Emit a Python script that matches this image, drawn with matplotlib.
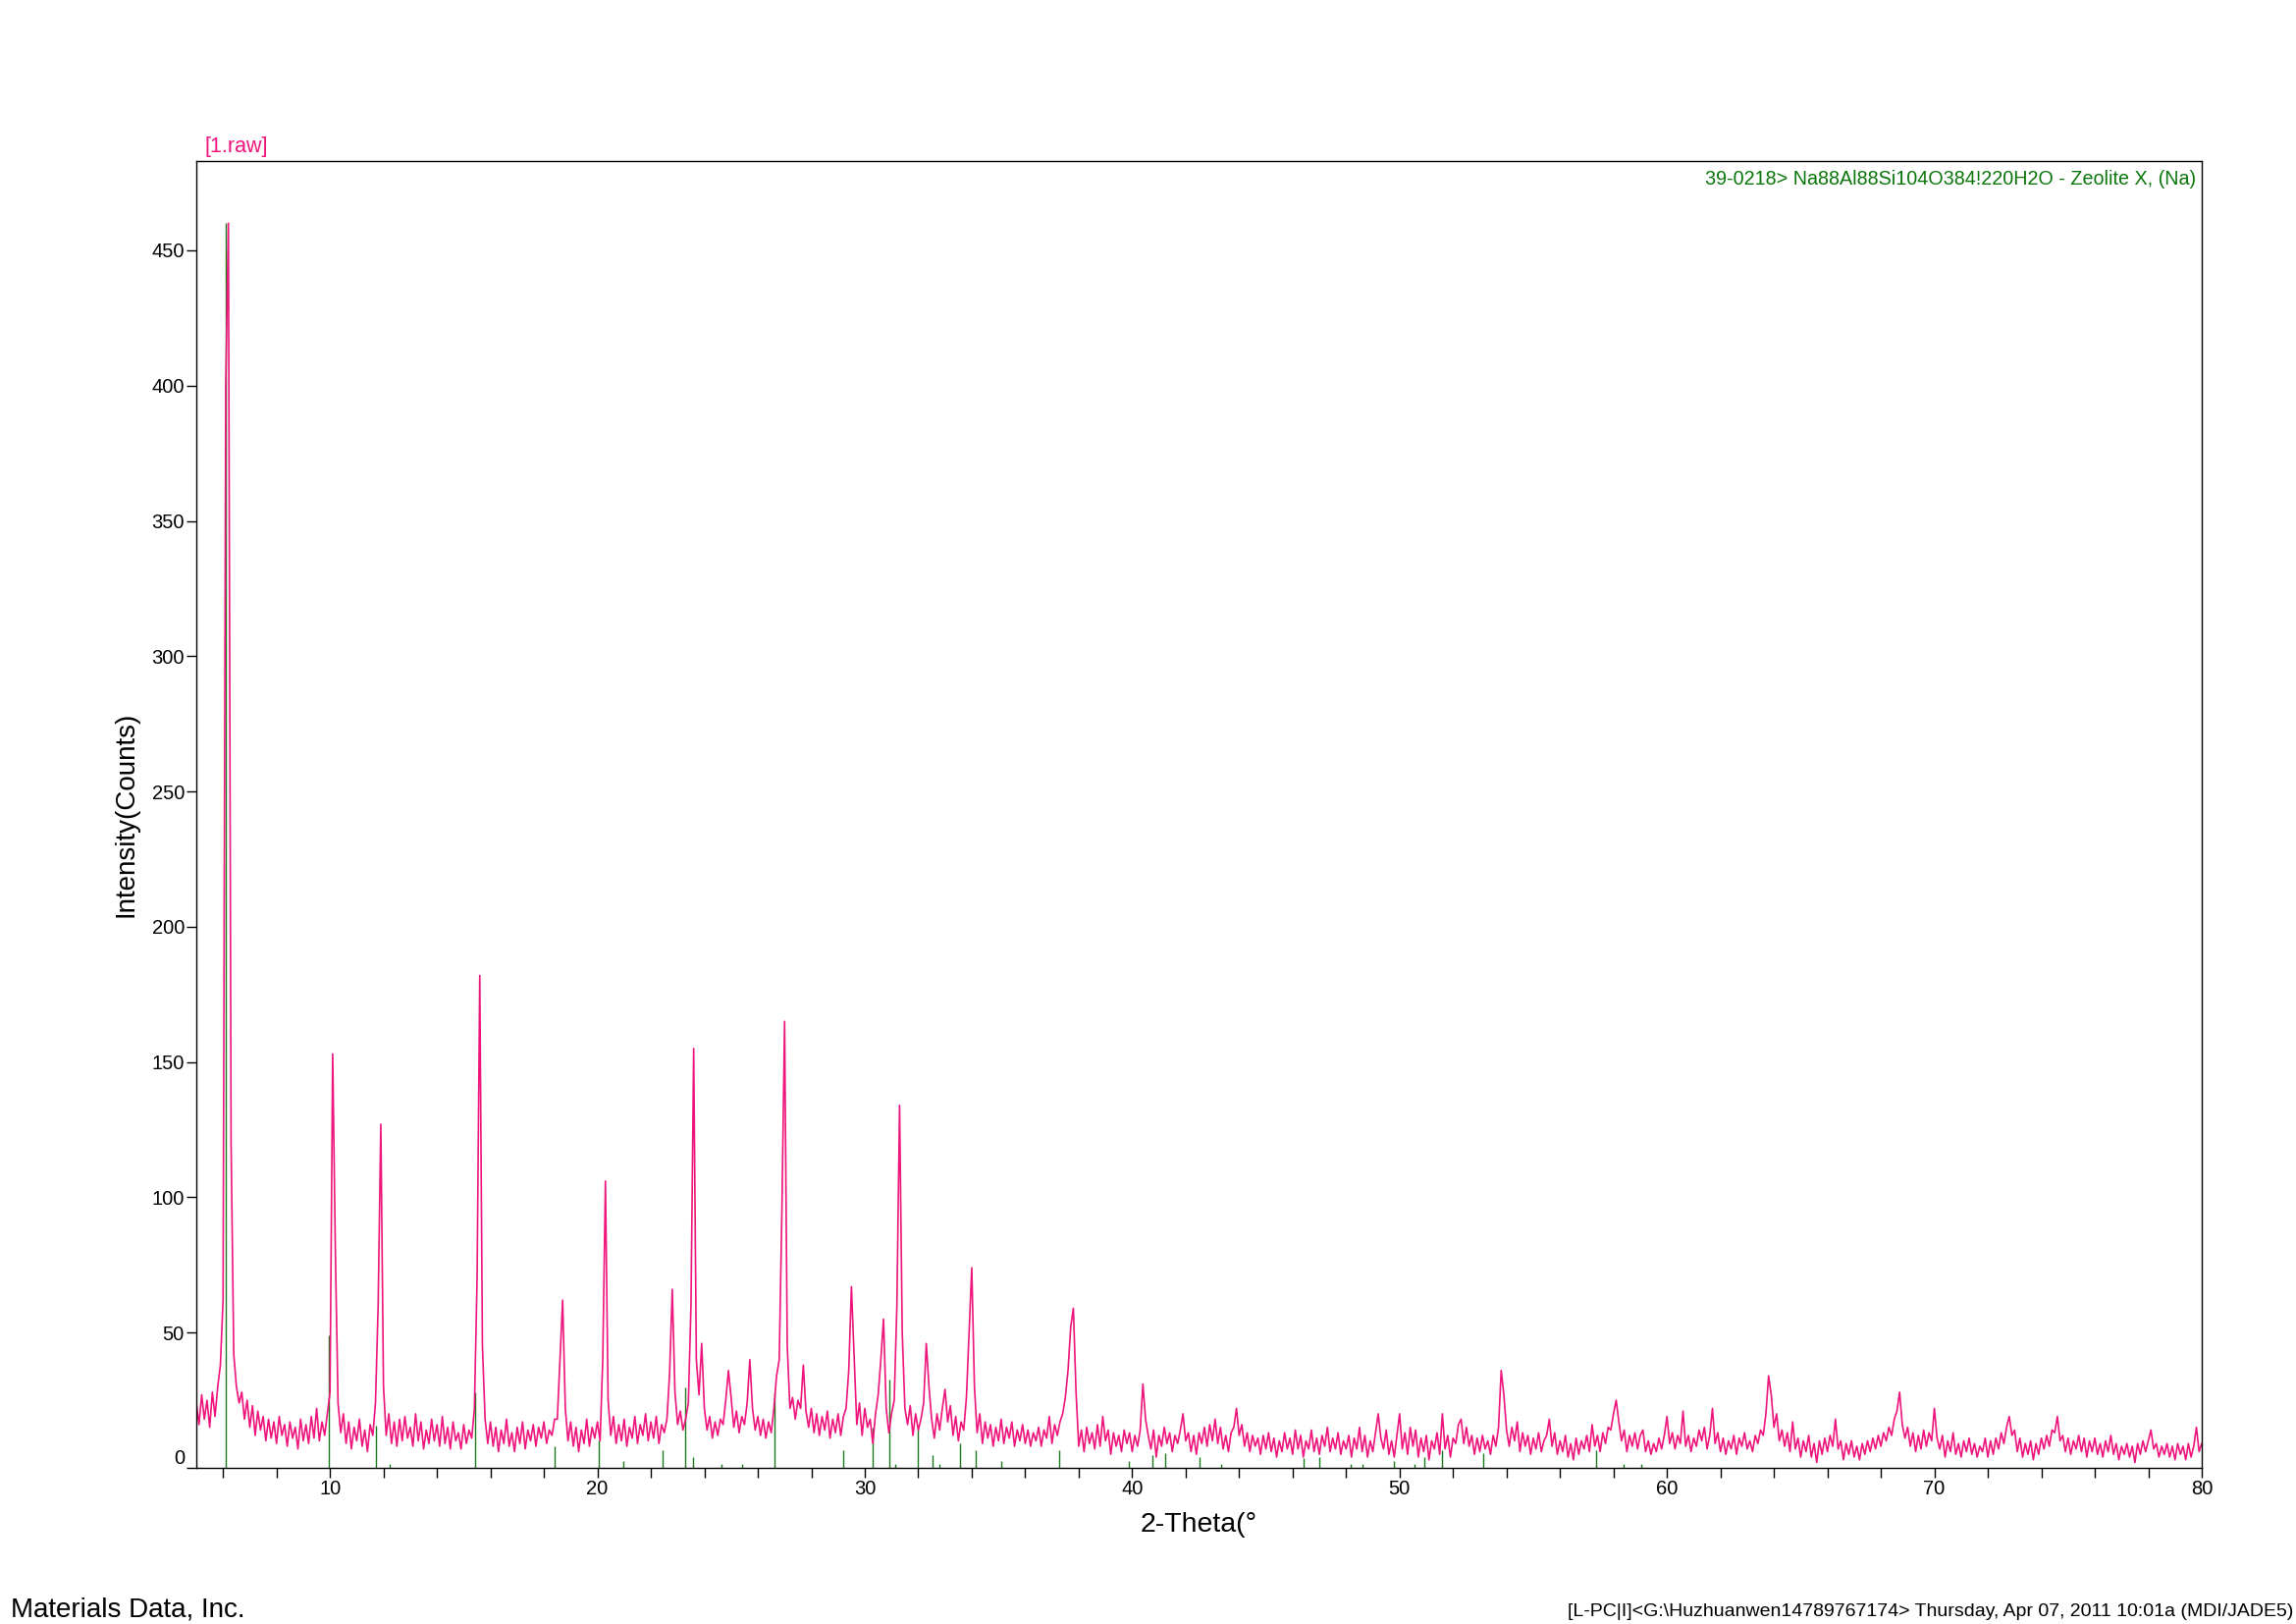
import numpy as np
import matplotlib
matplotlib.use("Agg")
import matplotlib.pyplot as plt
from matplotlib.ticker import MultipleLocator

plt.rcParams['font.family'] = ['Liberation Sans', 'DejaVu Sans']

# measured counts, 2-theta from 5.0 to 80.0 in 0.1 deg steps (one row per degree)
counts = [
    24, 16, 27, 18, 25, 15, 28, 19, 30, 38,      # 5
    62, 400, 460, 120, 42, 30, 24, 28, 18, 25,   # 6
    15, 23, 12, 21, 14, 19, 10, 18, 11, 17,      # 7
    9, 19, 12, 16, 8, 17, 11, 15, 7, 18,         # 8
    10, 16, 9, 19, 11, 22, 10, 17, 12, 20,       # 9
    28, 153, 80, 24, 13, 20, 9, 17, 7, 15,       # 10
    10, 18, 8, 14, 6, 16, 12, 24, 60, 127,       # 11
    30, 12, 20, 9, 17, 8, 18, 10, 19, 11,        # 12
    15, 8, 20, 10, 17, 7, 14, 9, 18, 10,         # 13
    16, 8, 19, 9, 15, 7, 17, 10, 13, 7,          # 14
    16, 9, 14, 11, 22, 70, 182, 45, 18, 9,       # 15
    17, 8, 15, 6, 14, 9, 18, 8, 13, 6,           # 16
    15, 9, 17, 7, 14, 10, 16, 8, 15, 11,         # 17
    17, 9, 14, 12, 18, 18, 40, 62, 22, 10,       # 18
    17, 8, 15, 6, 14, 9, 18, 8, 15, 11,          # 19
    17, 10, 40, 106, 25, 12, 19, 9, 16, 10,      # 20
    18, 8, 15, 11, 19, 9, 16, 12, 20, 10,        # 21
    17, 11, 19, 9, 16, 13, 18, 35, 66, 28,       # 22
    16, 21, 14, 18, 24, 60, 155, 40, 27, 46,     # 23
    22, 14, 19, 11, 17, 12, 18, 16, 25, 36,      # 24
    26, 15, 21, 13, 19, 16, 24, 40, 22, 14,      # 25
    19, 12, 18, 11, 17, 13, 22, 34, 40, 95,      # 26
    165, 45, 22, 26, 18, 25, 22, 38, 21, 15,     # 27
    22, 13, 20, 12, 19, 14, 21, 11, 18, 13,      # 28
    20, 12, 19, 22, 36, 67, 42, 16, 24, 12,      # 29
    22, 15, 18, 9, 20, 27, 40, 55, 22, 13,       # 30
    20, 25, 60, 134, 50, 22, 16, 23, 12, 20,     # 31
    14, 18, 24, 46, 30, 18, 11, 20, 14, 22,      # 32
    29, 17, 23, 12, 19, 10, 17, 14, 26, 50,      # 33
    74, 30, 13, 20, 9, 17, 11, 16, 8, 15,        # 34
    10, 18, 9, 15, 11, 17, 8, 14, 10, 16,        # 35
    9, 14, 8, 13, 10, 15, 8, 14, 11, 19,         # 36
    9, 16, 12, 17, 20, 26, 36, 52, 59, 28,       # 37
    8, 14, 6, 15, 9, 13, 7, 16, 8, 19,           # 38
    10, 14, 5, 13, 8, 12, 6, 14, 9, 13,          # 39
    6, 12, 8, 14, 31, 18, 12, 7, 14, 4,          # 40
    12, 8, 15, 9, 13, 6, 12, 9, 14, 20,          # 41
    10, 13, 6, 12, 5, 13, 9, 15, 8, 16,          # 42
    10, 18, 9, 15, 7, 12, 6, 13, 15, 22,         # 43
    12, 16, 8, 13, 6, 12, 8, 11, 5, 12,          # 44
    7, 13, 6, 11, 4, 10, 6, 13, 7, 11,           # 45
    5, 14, 7, 12, 4, 10, 7, 14, 6, 11,           # 46
    5, 12, 8, 15, 6, 11, 7, 13, 5, 10,           # 47
    7, 12, 4, 11, 7, 15, 6, 12, 4, 10,           # 48
    6, 13, 20, 11, 7, 14, 5, 10, 4, 12,          # 49
    20, 7, 13, 5, 15, 8, 14, 4, 11, 6,           # 50
    12, 3, 10, 7, 13, 5, 20, 7, 12, 4,           # 51
    11, 9, 16, 18, 9, 15, 8, 12, 5, 11,          # 52
    6, 12, 7, 10, 5, 12, 8, 15, 36, 27,          # 53
    14, 8, 15, 10, 17, 6, 13, 8, 12, 5,          # 54
    11, 7, 13, 6, 10, 12, 18, 8, 13, 5,          # 55
    10, 6, 12, 4, 9, 3, 11, 5, 10, 7,            # 56
    12, 6, 16, 8, 12, 6, 13, 9, 15, 14,          # 57
    20, 25, 17, 10, 14, 6, 12, 8, 13, 7,         # 58
    12, 14, 6, 10, 5, 9, 6, 11, 7, 12,           # 59
    19, 9, 13, 7, 12, 9, 21, 8, 12, 6,           # 60
    11, 8, 14, 10, 15, 7, 12, 22, 9, 13,         # 61
    6, 11, 5, 10, 7, 12, 5, 11, 8, 13,           # 62
    7, 10, 6, 12, 9, 14, 12, 20, 34, 27,         # 63
    15, 20, 10, 14, 8, 13, 6, 17, 7, 11,         # 64
    4, 10, 6, 12, 4, 9, 2, 10, 5, 11,            # 65
    6, 12, 8, 18, 7, 10, 3, 9, 5, 10,            # 66
    4, 8, 3, 9, 5, 10, 6, 11, 7, 12,             # 67
    8, 13, 10, 15, 12, 18, 21, 28, 16, 11,       # 68
    15, 8, 13, 6, 12, 7, 14, 8, 13, 10,          # 69
    22, 11, 7, 12, 4, 10, 6, 13, 5, 9,           # 70
    4, 10, 6, 11, 5, 9, 4, 8, 6, 11,             # 71
    4, 10, 5, 11, 7, 13, 9, 15, 19, 12,          # 72
    14, 6, 11, 4, 9, 5, 10, 3, 9, 5,             # 73
    11, 7, 12, 8, 14, 13, 19, 10, 12, 6,         # 74
    11, 5, 10, 7, 12, 6, 11, 4, 10, 6,           # 75
    11, 5, 9, 4, 10, 6, 12, 5, 9, 3,             # 76
    8, 5, 9, 4, 8, 2, 9, 5, 10, 6,               # 77
    10, 14, 7, 9, 4, 8, 5, 9, 4, 8,              # 78
    3, 9, 5, 8, 3, 9, 4, 8, 15, 6,               # 79
    9,                                           # 80
]
two_theta = np.round(5.0 + 0.1 * np.arange(len(counts)), 1)

# PDF card 39-0218 (Zeolite X) stick pattern
card_pos = [6.11, 9.97, 11.70, 12.25, 15.41, 18.41, 20.05, 20.98, 22.43, 23.28,
            23.57, 24.64, 25.41, 26.62, 29.18, 30.28, 30.91, 31.14, 31.97, 32.55,
            32.78, 33.55, 34.14, 35.09, 37.27, 39.87, 40.77, 41.23, 42.52, 43.34,
            46.42, 47.00, 48.18, 48.62, 49.80, 50.54, 50.93, 51.60, 53.14, 57.36,
            58.39, 59.05]
card_int = [460, 49, 15.7, 1.6, 28, 7.9, 10.3, 2.7, 6.7, 29.6,
            3.9, 1.6, 1.6, 28, 6.7, 15, 32.6, 1.6, 14.5, 4.8,
            1.6, 9, 6.7, 2.7, 6.7, 2.7, 4.8, 5.4, 3.9, 1.6,
            3.6, 3.9, 1.6, 1.6, 2.7, 1.6, 3.9, 6.7, 5.4, 6.7,
            1.6, 1.6]

pink = "#EE157C"
green = "#0B760B"

W, H = 2339, 1654
fig = plt.figure(figsize=(W / 100, H / 100), dpi=100)
ax = fig.add_axes([200 / W, 1 - 1495 / H, 2043 / W, 1331 / H])

ax.vlines(card_pos, 0, card_int, color="#1C7A1C", lw=1.0, zorder=1)
ax.plot(two_theta, counts, color=pink, lw=1.2, zorder=2)

ax.set_xlim(5, 80)
ax.set_ylim(0, 483)
ax.xaxis.set_major_locator(MultipleLocator(10))
ax.xaxis.set_minor_locator(MultipleLocator(2))
ax.set_yticks(np.arange(0, 451, 50))

for s in ax.spines.values():
    s.set_linewidth(1.0)
ax.tick_params(axis="both", which="both", direction="out", length=7.2, width=1.0,
               labelsize=14.5, colors="black")
ax.tick_params(axis="x", pad=1.5)
ax.tick_params(axis="y", pad=1.5)
# the zero label sits just above the x axis
ax.yaxis.get_major_ticks()[0].label1.set_verticalalignment("bottom")

ax.set_xlabel("2-Theta(°", fontsize=20.5, va="center")
ax.xaxis.set_label_coords(0.5, -58 / 1331)
ax.set_ylabel("Intensity(Counts)", fontsize=20, va="center")
ax.yaxis.set_label_coords(-72 / 2043, 0.5)

fig.text(209 / W, 1 - 150 / H, "[1.raw]", color=pink, fontsize=15.5, va="center", ha="left")
ax.text(2237 / W, 1 - 182 / H, "39-0218> Na88Al88Si104O384!220H2O - Zeolite X, (Na)",
        transform=fig.transFigure, color=green, fontsize=14.2, va="center", ha="right")

fig.text(11 / W, 1 - 1639 / H, "Materials Data, Inc.", fontsize=20, va="center", ha="left")
fig.text(2336 / W, 1 - 1641 / H,
         "[L-PC|I]<G:\\Huzhuanwen14789767174> Thursday, Apr 07, 2011 10:01a (MDI/JADE5)",
         fontsize=14, va="center", ha="right")

fig.savefig("out.png", dpi=100)
